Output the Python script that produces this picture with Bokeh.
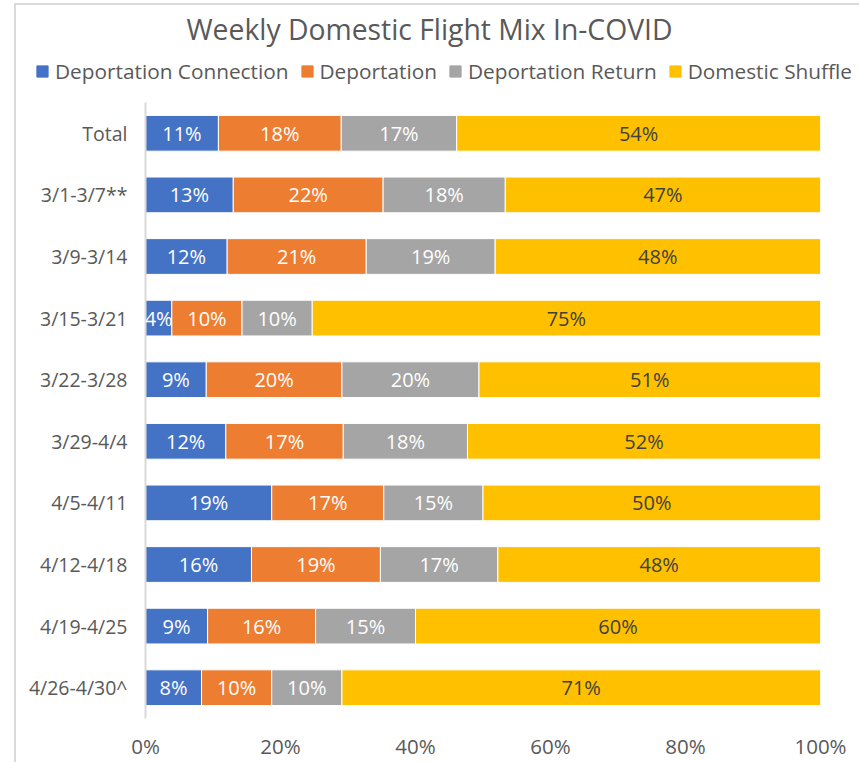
from bokeh.plotting import figure
from bokeh.models import (ColumnDataSource, FactorRange, Range1d, Legend, LegendItem, LabelSet,
                          Label, FixedTicker, PrintfTickFormatter, InlineStyleSheet)
from bokeh.core.properties import value
from bokeh.embed import file_html
from bokeh.resources import INLINE

# ---------------- data ----------------
categories = ["Total", "3/1-3/7**", "3/9-3/14", "3/15-3/21", "3/22-3/28",
              "3/29-4/4", "4/5-4/11", "4/12-4/18", "4/19-4/25", "4/26-4/30^"]
series_names = ["Deportation Connection", "Deportation", "Deportation Return", "Domestic Shuffle"]
dep_connection = [10.8, 13.0, 12.1, 3.9, 9.0, 11.9, 18.7, 15.7, 9.2, 8.3]
deportation = [18.2, 22.2, 20.6, 10.4, 20.1, 17.4, 16.6, 19.1, 16.0, 10.4]
dep_return = [17.1, 18.1, 19.1, 10.4, 20.3, 18.4, 14.7, 17.4, 14.8, 10.4]
dom_shuffle = [53.9, 46.7, 48.2, 75.3, 50.6, 52.3, 50.0, 47.8, 60.0, 70.9]
x_ticks = [0, 20, 40, 60, 80, 100]
chart_title = "Weekly Domestic Flight Mix In-COVID"

colors = ["#4472C4", "#ED7D31", "#A5A5A5", "#FFC000"]
label_colors = ["#FFFFFF", "#FFFFFF", "#FFFFFF", "#404040"]
TXT = "#595959"
FONT = "Open Sans"
BORDER = "#D9D9D9"

W = 859
TOP_H = 102
MAIN_H = 660

# ---------------- header (title + legend) ----------------
head = figure(width=W, height=TOP_H, title=None,
              x_range=Range1d(0, W), y_range=Range1d(0, TOP_H),
              x_axis_type=None, y_axis_type=None,
              output_backend="svg", toolbar_location=None,
              min_border=0, min_border_left=0, min_border_right=0,
              min_border_top=0, min_border_bottom=0)
head.grid.grid_line_color = None
head.outline_line_color = None

head.add_layout(Label(x=429, y=TOP_H - 28, text=chart_title,
                      text_align="center", text_baseline="middle",
                      text_font=FONT, text_font_size="28.3px",
                      text_color=TXT))

# legend-only renderers (a zero-width bar placed outside the visible range)
legend_items = []
for name, col in zip(series_names, colors):
    dummy = ColumnDataSource(dict(y=[-100], left=[0], right=[0]))
    rr = head.hbar(y="y", left="left", right="right", height=1, source=dummy,
                   fill_color=col, line_color=col)
    legend_items.append(LegendItem(label=name, renderers=[rr]))

legend = Legend(items=legend_items, orientation="horizontal", location=(35, 17),
                glyph_width=14, glyph_height=14, label_standoff=6, spacing=11,
                padding=0, margin=0, border_line_color=None,
                background_fill_alpha=0,
                label_text_font=FONT, label_text_font_size="20.8px",
                label_text_color=TXT)
head.add_layout(legend, "center")

# ---------------- main chart ----------------
p = figure(width=W, height=MAIN_H, title=None,
           y_range=FactorRange(factors=list(reversed(categories))),
           x_range=(0, 100),
           output_backend="svg", toolbar_location=None,
           min_border_left=145, min_border_right=39,
           min_border_top=0, min_border_bottom=42)

all_series = [dep_connection, deportation, dep_return, dom_shuffle]
left = [0.0] * len(categories)
for name, vals, col, lcol in zip(series_names, all_series, colors, label_colors):
    right = [l + v for l, v in zip(left, vals)]
    src = ColumnDataSource(dict(
        cat=categories, left=left, right=right,
        mid=[(l + r) / 2 for l, r in zip(left, right)],
        lab=[f"{round(v)}%" for v in vals]))
    p.hbar(y="cat", left="left", right="right", height=0.58, source=src,
           fill_color=col, line_color="white", line_width=1)
    p.add_layout(LabelSet(x="mid", y="cat", text="lab", source=src,
                          text_align="center", text_baseline="middle",
                          text_font_size="20px", text_color=lcol,
                          text_font=value(FONT)))
    left = right

p.xaxis.ticker = FixedTicker(ticks=x_ticks)
p.xaxis.formatter = PrintfTickFormatter(format="%d%%")
p.xaxis.axis_line_color = None
p.xaxis.major_tick_line_color = None
p.xaxis.minor_tick_line_color = None
p.xaxis.major_label_standoff = 7
p.xaxis.major_label_text_font = FONT
p.xaxis.major_label_text_font_size = "20.5px"
p.xaxis.major_label_text_color = TXT

p.yaxis.axis_line_color = BORDER
p.yaxis.axis_line_width = 2
p.yaxis.major_tick_line_color = None
p.yaxis.minor_tick_line_color = None
p.yaxis.major_label_standoff = 12
p.yaxis.major_label_text_font = FONT
p.yaxis.major_label_text_font_size = "19.5px"
p.yaxis.major_label_text_color = TXT

p.grid.grid_line_color = None
p.outline_line_color = None

# chart area border (left and top edges visible in the reference)
head.stylesheets = [InlineStyleSheet(css=(
    ":host::before { content: ''; position: absolute; left: 14px; top: 3px; "
    "right: 0; bottom: 0; border-left: 2px solid #D9D9D9; "
    "border-top: 2px solid #D9D9D9; pointer-events: none; z-index: 10; }"))]
p.stylesheets = [InlineStyleSheet(css=(
    ":host::before { content: ''; position: absolute; left: 14px; top: 0; "
    "right: 0; bottom: 0; border-left: 2px solid #D9D9D9; "
    "pointer-events: none; z-index: 10; }"))]

open("out.html", "w").write(file_html([head, p], INLINE))
